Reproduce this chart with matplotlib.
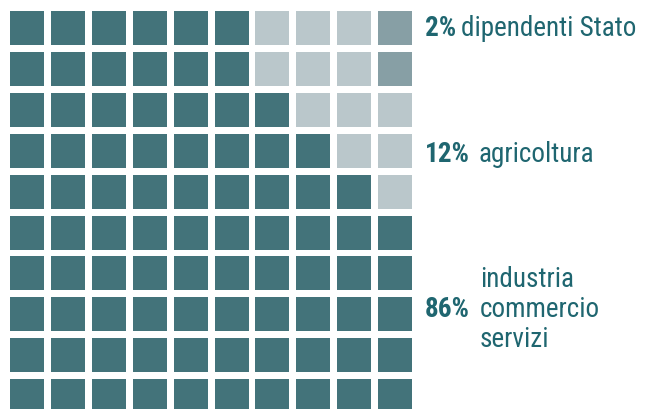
import matplotlib
matplotlib.use("Agg")
import matplotlib.pyplot as plt
from matplotlib.patches import Rectangle

# data
shares = [86, 12, 2]
pct_labels = ["86%", "12%", "2%"]
names = ["industria\ncommercio\nservizi", "agricoltura", "dipendenti Stato"]
colors = ["#43737a", "#bac7cb", "#879fa5"]
# squares per row (top to bottom) for each category
dark_row = [6, 6, 7, 8, 9, 10, 10, 10, 10, 10]
light_row = [3, 3, 3, 2, 1, 0, 0, 0, 0, 0]
mid_row = [1, 1, 0, 0, 0, 0, 0, 0, 0, 0]

fig = plt.figure(figsize=(6.46, 4.10), dpi=100)
ax = fig.add_axes([0, 0, 1, 1])
ax.set_xlim(0, 646)
ax.set_ylim(410, 0)
ax.axis("off")

x0, y0, pitch, size = 10, 12, 40.9, 34
for r in range(10):
    cats = [0] * dark_row[r] + [1] * light_row[r] + [2] * mid_row[r]
    for c, k in enumerate(cats):
        ax.add_patch(Rectangle((x0 + c * pitch, y0 + r * pitch), size, size,
                               facecolor=colors[k], edgecolor="none"))

txt = "#1f6670"
font = ["Liberation Sans Narrow", "Roboto Condensed", "Roboto", "DejaVu Sans"]
label_base = [317, 162, 36]   # baseline of each label, in pixels
gaps = [10, 8, 5]
line_gap = 30
fs = 19.5
fig.canvas.draw()
rend = fig.canvas.get_renderer()
for i in range(3):
    yb = label_base[i]
    t = ax.text(425, yb, pct_labels[i], fontsize=fs, fontweight="semibold",
                color=txt, family=font, fontstretch="condensed",
                va="baseline", ha="left")
    bb = t.get_window_extent(renderer=rend)
    xe = ax.transData.inverted().transform((bb.x1 + gaps[i], 0))[0]
    lines = names[i].split("\n")
    n = len(lines)
    for j, line in enumerate(lines):
        ax.text(xe, yb + (j - (n - 1) / 2) * line_gap, line, fontsize=fs,
                color=txt, family=font, fontstretch="condensed",
                va="baseline", ha="left")

fig.savefig("out.png", dpi=100)
